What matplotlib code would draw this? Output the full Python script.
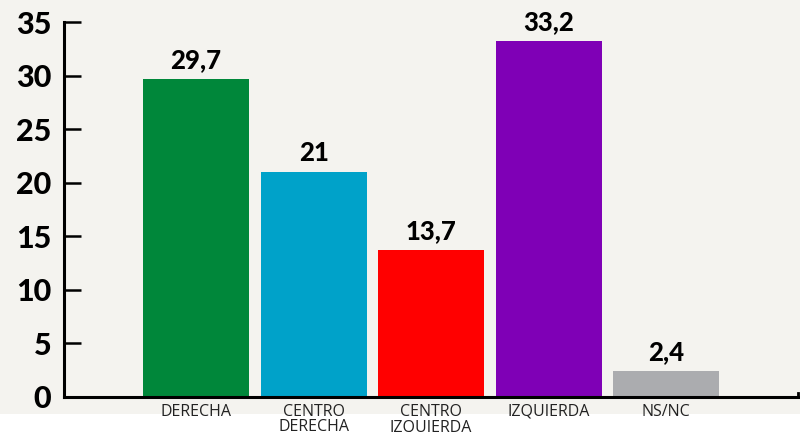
import matplotlib
matplotlib.use("Agg")
import matplotlib.pyplot as plt
from matplotlib.patches import Rectangle

# Data
categories = ["DERECHA", "CENTRO\nDERECHA", "CENTRO\nIZQUIERDA", "IZQUIERDA", "NS/NC"]
values = [29.7, 21, 13.7, 33.2, 2.4]
value_labels = ["29,7", "21", "13,7", "33,2", "2,4"]
colors = ["#00873a", "#00a2c9", "#ff0000", "#7f00b6", "#abacaf"]
y_ticks = [0, 5, 10, 15, 20, 25, 30, 35]

bg = "#f4f3ef"

fig = plt.figure(figsize=(8, 4.32), dpi=100)
fig.patch.set_facecolor("white")
# beige panel, white strip at the bottom
fig.patches.append(Rectangle((0, 1 - 414 / 432), 1, 414 / 432, transform=fig.transFigure,
                             facecolor=bg, edgecolor="none", zorder=-10))

ax = fig.add_axes([64 / 800, 1 - 397 / 432, (798 - 64) / 800, (397 - 22) / 432])
ax.set_facecolor(bg)
ax.patch.set_alpha(0)

x = list(range(len(categories)))
ax.bar(x, values, width=0.9, color=colors, zorder=2)

for xi, v, lab in zip(x, values, value_labels):
    ax.annotate(lab, (xi, v), xytext=(0, 5), textcoords="offset points",
                ha="center", va="bottom", fontsize=18.5, fontweight="black",
                family="Lato", color="black")

ax.set_xlim(-1.123, 5.12)
ax.set_ylim(0, 35)

for s in ["top", "right"]:
    ax.spines[s].set_visible(False)
ax.spines["left"].set_linewidth(2.2)
ax.spines["bottom"].set_linewidth(2.2)
ax.spines["left"].set_capstyle("projecting")

ax.set_yticks(y_ticks)
ax.set_yticklabels([str(t) for t in y_ticks], fontsize=22, fontweight="black", family="Lato")
ax.tick_params(axis="y", direction="in", length=12, width=1.8, pad=9)

ax.set_xticks(x)
ax.set_xticklabels(categories, fontsize=11.5, family="Open Sans", color="#222222",
                   linespacing=0.95)
ax.tick_params(axis="x", length=0, pad=5)

# small hook at the right end of the baseline
ax.plot([1, 1], [0, 0.012], transform=ax.transAxes, color="black", lw=2, clip_on=False)

plt.savefig("out.png", dpi=100, facecolor=fig.get_facecolor())
